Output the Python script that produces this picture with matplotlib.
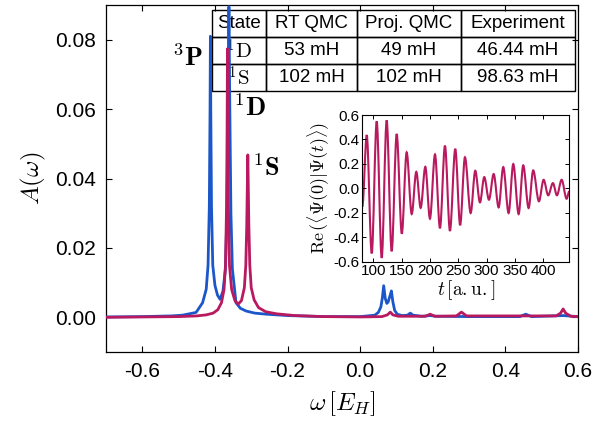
import matplotlib
matplotlib.use("Agg")
import matplotlib.pyplot as plt
from matplotlib.path import Path
from matplotlib.patches import PathPatch

plt.rcParams['font.family'] = ['Liberation Sans', 'DejaVu Sans']
plt.rcParams['mathtext.fontset'] = 'cm'
plt.rcParams['axes.unicode_minus'] = False

# ---------------- data ----------------
omega_blue = [-0.700, -0.600, -0.520, -0.490, -0.452, -0.434, -0.424, -0.419, -0.4155, -0.4135,
              -0.4125, -0.4115, -0.4095, -0.406, -0.400, -0.393, -0.386, -0.378, -0.371, -0.367,
              -0.3635, -0.3615, -0.3595, -0.356, -0.352, -0.342, -0.330, -0.314, -0.290, -0.259,
              -0.200, -0.100, 0.000, 0.040, 0.050, 0.057, 0.061, 0.0648, 0.069, 0.0735,
              0.077, 0.081, 0.086, 0.090, 0.095, 0.102, 0.115, 0.130, 0.138, 0.146,
              0.170, 0.193, 0.210, 0.300, 0.440, 0.456, 0.472, 0.559, 0.600]
A_blue = [0.0001, 0.0002, 0.0004, 0.0006, 0.0014, 0.0042, 0.0081, 0.0150, 0.032, 0.060,
          0.081, 0.060, 0.032, 0.0150, 0.0092, 0.0064, 0.0052, 0.0075, 0.0140, 0.030,
          0.065, 0.0895, 0.065, 0.030, 0.0140, 0.0042, 0.0026, 0.0018, 0.0012, 0.0009,
          0.0005, 0.0002, 0.0002, 0.0006, 0.0014, 0.0030, 0.0055, 0.0091, 0.0055, 0.0040,
          0.0044, 0.0058, 0.0076, 0.0045, 0.0020, 0.0009, 0.0005, 0.0006, 0.0012, 0.0006,
          0.0003, 0.0005, 0.0003, 0.0002, 0.0002, 0.0009, 0.0002, 0.0005, 0.0002]

omega_pink = [-0.700, -0.600, -0.500, -0.450, -0.424, -0.405, -0.392, -0.382, -0.375, -0.371,
              -0.368, -0.3665, -0.3655, -0.3645, -0.363, -0.360, -0.354, -0.345, -0.336, -0.327,
              -0.319, -0.315, -0.3125, -0.3105, -0.3095, -0.3085, -0.3065, -0.304, -0.300, -0.292,
              -0.280, -0.260, -0.230, -0.180, -0.100, 0.000, 0.060, 0.075, 0.083, 0.090,
              0.105, 0.180, 0.193, 0.205, 0.265, 0.279, 0.293, 0.540, 0.552, 0.559,
              0.566, 0.580, 0.600]
A_pink = [0.0000, 0.0001, 0.0002, 0.0004, 0.0007, 0.0012, 0.0022, 0.0042, 0.0080, 0.0150,
          0.032, 0.055, 0.0774, 0.055, 0.032, 0.0150, 0.0080, 0.0048, 0.0038, 0.0048,
          0.0085, 0.0150, 0.026, 0.040, 0.0468, 0.040, 0.026, 0.0150, 0.0085, 0.0050,
          0.0028, 0.0016, 0.0010, 0.0005, 0.0002, 0.0001, 0.0002, 0.0007, 0.0015, 0.0007,
          0.0003, 0.0003, 0.0009, 0.0003, 0.0004, 0.0015, 0.0004, 0.0004, 0.0012, 0.0024,
          0.0012, 0.0003, 0.0002]

# inset: extrema of Re<Psi(0)|Psi(t)>
t_ext = [80.6, 88.4, 97.2, 106.0, 114.8, 123.6, 132.4, 141.3, 150.3, 158.9,
         167.8, 175.9, 183.6, 191.8, 200.0, 208.9, 217.7, 226.5, 235.3, 244.7,
         253.3, 261.8, 271.9, 280.0, 288.3, 295.9, 304.2, 312.5, 321.3, 329.4,
         338.9, 347.1, 356.6, 364.7, 374.2, 382.3, 392.4, 400.7, 408.8, 417.1,
         424.2, 432.5, 441.3, 446.0]
v_ext = [-0.15, 0.436, -0.532, 0.548, -0.569, 0.556, -0.515, 0.445, -0.371, 0.294,
         -0.210, 0.135, -0.160, 0.176, -0.248, 0.277, -0.326, 0.349, -0.348, 0.323,
         -0.301, 0.254, -0.202, 0.144, -0.115, 0.092, -0.093, 0.117, -0.156, 0.174,
         -0.202, 0.199, -0.210, 0.188, -0.161, 0.147, -0.106, 0.070, -0.057, 0.043,
         -0.057, 0.070, -0.085, -0.025]

col_labels = ["State", "RT QMC", "Proj. QMC", "Experiment"]
row_states = [r"$^1\mathrm{D}$", r"$^1\mathrm{S}$"]
rt_qmc = ["53 mH", "102 mH"]
proj_qmc = ["49 mH", "102 mH"]
experiment = ["46.44 mH", "98.63 mH"]

peak_labels = [r"$^3\mathbf{P}$", r"$^1\mathbf{D}$", r"$^1\mathbf{S}$"]

x_ticks = [-0.6, -0.4, -0.2, 0.0, 0.2, 0.4, 0.6]
y_ticks = [0.00, 0.02, 0.04, 0.06, 0.08]
inset_x_ticks = [100, 150, 200, 250, 300, 350, 400]
inset_y_ticks = [-0.6, -0.4, -0.2, 0.0, 0.2, 0.4, 0.6]

BLUE = "#1b57c9"
PINK = "#b8195f"

# ---------------- figure ----------------
fig = plt.figure(figsize=(5.93, 4.21), dpi=100)
ax = fig.add_axes([0.1788, 0.1639, 0.7959, 0.8242])

ax.plot(omega_blue, A_blue, color=BLUE, lw=2.0, zorder=3, solid_joinstyle='round')
ax.plot(omega_pink, A_pink, color=PINK, lw=2.0, zorder=4, solid_joinstyle='round')

ax.set_xlim(-0.7, 0.6)
ax.set_ylim(-0.01, 0.09)
ax.set_xticks(x_ticks)
ax.set_xticklabels([f"{v:.1f}" for v in x_ticks])
ax.set_yticks(y_ticks)
ax.set_yticklabels([f"{v:.2f}" for v in y_ticks])
ax.tick_params(direction='in', top=True, right=True, length=4, width=0.8,
               labelsize=15, pad=7)
ax.set_xlabel(r"$\omega\,[E_H]$", fontsize=18, labelpad=6)
ax.set_ylabel(r"$A(\omega)$", fontsize=18, labelpad=5)
for s in ax.spines.values():
    s.set_linewidth(0.9)

# peak labels
ax.text(-0.433, 0.0723, peak_labels[0], fontsize=19, ha='right', va='baseline', zorder=6)
ax.text(-0.350, 0.0579, peak_labels[1], fontsize=19, ha='left', va='baseline', zorder=6)
ax.text(-0.298, 0.0406, peak_labels[2], fontsize=19, ha='left', va='baseline', zorder=6)

# table
cell_text = [[row_states[i], rt_qmc[i], proj_qmc[i], experiment[i]] for i in range(2)]
widths = [54, 91, 104, 114]
tot = sum(widths)
tbl = ax.table(cellText=cell_text, colLabels=col_labels,
               colWidths=[w / tot for w in widths],
               cellLoc='center', bbox=[0.2246, 0.7522, 0.7690, 0.2334], zorder=2)
tbl.auto_set_font_size(False)
tbl.set_fontsize(13.5)
for (r, c), cell in tbl.get_celld().items():
    cell.set_facecolor('none')
    cell.set_edgecolor('black')
    cell.set_linewidth(1.0)
    if c == 0 and r > 0:
        cell.get_text().set_fontsize(15)

# inset
axi = fig.add_axes([0.611, 0.3784, 0.349, 0.3484])
verts = [(t_ext[0], v_ext[0])]
codes = [Path.MOVETO]
for i in range(1, len(t_ext)):
    t0, v0 = t_ext[i - 1], v_ext[i - 1]
    t1, v1 = t_ext[i], v_ext[i]
    dt = t1 - t0
    verts += [(t0 + dt / 3.0, v0), (t1 - dt / 3.0, v1), (t1, v1)]
    codes += [Path.CURVE4, Path.CURVE4, Path.CURVE4]
axi.add_patch(PathPatch(Path(verts, codes), facecolor='none', edgecolor=PINK,
                        lw=1.5, transform=axi.transData))
axi.set_xlim(80.6, 446)
axi.set_ylim(-0.6, 0.6)
axi.set_xticks(inset_x_ticks)
axi.set_yticks(inset_y_ticks)
axi.set_yticklabels([f"{v:.1f}" for v in inset_y_ticks])
axi.tick_params(direction='in', top=True, right=True, length=3, width=0.7,
                labelsize=11, pad=2)
axi.set_xlabel(r"$t\,[\mathrm{a.u.}]$", fontsize=14, labelpad=0)
axi.set_ylabel(r"$\mathrm{Re}\,(\langle\Psi(0)|\Psi(t)\rangle)$", fontsize=13, labelpad=1)
for s in axi.spines.values():
    s.set_linewidth(0.8)

fig.savefig("out.png", dpi=100)
